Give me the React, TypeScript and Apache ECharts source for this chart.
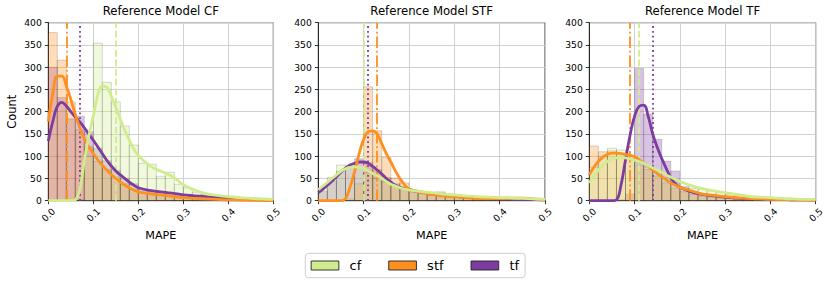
import React, { useEffect, useRef } from "react";
import * as echarts from "echarts";

// ---------- data ----------
const NAMES = ["cf", "stf", "tf"];
const COLORS: Record<string, string> = { cf: "#d0ec8c", stf: "#ff8f1e", tf: "#7d3ca0" };
const FILLS: Record<string, string> = {
  cf: "rgba(208,236,140,0.3)",
  stf: "rgba(255,143,30,0.3)",
  tf: "rgba(125,60,160,0.3)",
};
const TITLES = ["Reference Model CF", "Reference Model STF", "Reference Model TF"];
const X_TICKS = [0, 0.1, 0.2, 0.3, 0.4, 0.5];
const Y_TICKS = [0, 50, 100, 150, 200, 250, 300, 350, 400];

const BIN_EDGES = [0, 0.02, 0.04, 0.06, 0.08, 0.1, 0.12, 0.14, 0.16, 0.18, 0.2, 0.22, 0.24, 0.26, 0.28, 0.3, 0.32, 0.34, 0.36, 0.38, 0.4, 0.42, 0.44, 0.46, 0.48, 0.5];

// histogram counts per panel
const HIST_CF_CF = [0, 0, 0, 3, 100, 354, 266, 222, 168, 125, 84, 82, 55, 64, 37, 29, 19, 14, 10, 11, 5, 4, 3, 2, 2];
const HIST_CF_STF = [378, 316, 222, 159, 121, 88, 70, 55, 38, 25, 18, 16, 14, 11, 8, 6, 4, 3, 2, 2, 1, 1, 1, 0, 0];
const HIST_CF_TF = [300, 232, 184, 190, 155, 118, 90, 68, 50, 38, 25, 20, 19, 17, 12, 10, 8, 6, 5, 4, 3, 3, 2, 1, 1];

const HIST_STF_CF = [28, 52, 80, 76, 75, 62, 50, 42, 35, 27, 22, 18, 16, 20, 15, 12, 9, 7, 6, 5, 5, 4, 4, 3, 3];
const HIST_STF_STF = [0, 0, 0, 4, 38, 256, 157, 97, 51, 40, 20, 17, 12, 10, 8, 7, 5, 4, 4, 4, 5, 6, 4, 3, 2];
const HIST_STF_TF = [22, 44, 66, 78, 94, 86, 70, 52, 38, 26, 20, 16, 13, 18, 12, 10, 7, 6, 5, 4, 3, 3, 3, 2, 2];

const HIST_TF_CF = [75, 100, 118, 114, 99, 85, 76, 66, 52, 40, 32, 28, 25, 22, 18, 14, 12, 9, 7, 6, 5, 4, 3, 3, 2];
const HIST_TF_STF = [123, 110, 112, 105, 95, 80, 70, 55, 40, 28, 20, 14, 10, 8, 6, 5, 4, 3, 3, 2, 2, 1, 1, 1, 1];
const HIST_TF_TF = [0, 0, 0, 2, 15, 297, 195, 138, 89, 67, 30, 20, 15, 10, 8, 6, 5, 4, 3, 2, 2, 1, 1, 1, 1];

// KDE curves at these x positions
const KDE_X = [0, 0.01, 0.02, 0.03, 0.04, 0.05, 0.06, 0.07, 0.08, 0.09, 0.1, 0.11, 0.12, 0.13, 0.14, 0.15, 0.16, 0.17, 0.18, 0.19, 0.2, 0.225, 0.25, 0.275, 0.3, 0.325, 0.35, 0.375, 0.4, 0.425, 0.45, 0.475, 0.5];

const KDE_CF_CF = [0, 0, 0, 0, 0, 0, 2, 25, 90, 145, 190, 238, 258, 255, 235, 210, 183, 158, 136, 116, 102, 79, 66, 55, 36, 24, 16, 12, 9, 7, 5, 4, 3];
const KDE_CF_STF = [178, 240, 280, 280, 258, 228, 194, 164, 140, 121, 106, 92, 80, 69, 59, 50, 42, 35, 29, 24, 20, 16, 13, 10, 7, 5, 4, 3, 2, 1.5, 1, 1, 0.5];
const KDE_CF_TF = [134, 178, 212, 221, 213, 200, 188, 177, 164, 150, 136, 121, 106, 91, 78, 67, 58, 50, 42, 35, 29, 23, 20, 17, 13, 11, 9, 7, 5, 4, 3, 2, 1.5];

const KDE_STF_CF = [25, 33, 41, 50, 58, 66, 72, 75, 76, 75, 72, 67, 61, 56, 50, 43, 37, 33, 29, 26, 24, 21, 18, 15, 13, 11, 9, 8, 7, 6, 5, 4, 3];
const KDE_STF_STF = [0, 0, 0, 0, 0, 0, 5, 30, 65, 105, 138, 155, 157, 150, 128, 106, 87, 67, 50, 36, 27, 19, 14, 11, 9, 7, 5, 5, 5, 6, 6, 4, 2];
const KDE_STF_TF = [18, 26, 35, 44, 54, 64, 73, 80, 84, 87, 87, 84, 77, 69, 60, 50, 42, 35, 30, 27, 24, 20, 16, 13, 10, 8, 7, 6, 5, 4, 3, 2.5, 2];

const KDE_TF_CF = [40, 55, 69, 80, 88, 93, 96, 97, 96, 94, 91, 88, 84, 79, 74, 69, 64, 58, 53, 48, 43, 34, 27, 22, 18, 14, 10, 8, 7, 5, 4, 3, 3];
const KDE_TF_STF = [58, 75, 88, 98, 104, 107, 107, 106, 104, 102, 99, 92, 85, 78, 69, 61, 54, 47, 40, 35, 30, 22, 15, 12, 9, 7, 5, 4, 3, 2.5, 2, 1.5, 1.5];
const KDE_TF_TF = [0, 0, 0, 0, 0, 0, 2, 35, 92, 147, 190, 212, 215, 190, 150, 120, 95, 72, 52, 38, 30, 20, 14, 11, 8, 6, 5, 4, 3, 3, 2, 2, 1.5];

// vertical reference lines (cf, stf, tf) per panel
const VLINE_CF = [0.153, 0.045, 0.067];
const VLINE_STF = [0.105, 0.129, 0.1125];
const VLINE_TF = [0.108, 0.087, 0.135];

const HISTS = [
  [HIST_CF_CF, HIST_CF_STF, HIST_CF_TF],
  [HIST_STF_CF, HIST_STF_STF, HIST_STF_TF],
  [HIST_TF_CF, HIST_TF_STF, HIST_TF_TF],
];
const KDES = [
  [KDE_CF_CF, KDE_CF_STF, KDE_CF_TF],
  [KDE_STF_CF, KDE_STF_STF, KDE_STF_TF],
  [KDE_TF_CF, KDE_TF_STF, KDE_TF_TF],
];
const VLINES = [VLINE_CF, VLINE_STF, VLINE_TF];

// ---------- layout ----------
const GRID_LEFT = [48.3, 318.3, 589.3];
const GRID_WIDTH = [225, 226.7, 226.4];
const GRID_TOP = 22.7;
const GRID_HEIGHT = 178;
const FONT = "DejaVu Sans";
const DASH: Record<string, any> = {
  cf: [6.7, 2.9],
  stf: [11.5, 2.9, 1.8, 2.9],
  tf: [1.8, 3],
};

function buildOption() {
  const grid: any[] = [];
  const xAxis: any[] = [];
  const yAxis: any[] = [];
  const title: any[] = [];
  const series: any[] = [];

  for (let p = 0; p < 3; p++) {
    grid.push({
      left: GRID_LEFT[p],
      top: GRID_TOP,
      width: GRID_WIDTH[p],
      height: GRID_HEIGHT,
      show: true,
      borderColor: "#000",
      borderWidth: 0.8,
      backgroundColor: "transparent",
    });
    title.push({
      text: TITLES[p],
      left: GRID_LEFT[p] + GRID_WIDTH[p] / 2,
      top: 5,
      textAlign: "center",
      padding: 0,
      textStyle: { fontSize: 11.7, fontWeight: "normal", color: "#000", fontFamily: FONT },
    });
    xAxis.push({
      type: "value",
      gridIndex: p,
      min: X_TICKS[0],
      max: X_TICKS[X_TICKS.length - 1],
      interval: X_TICKS[1] - X_TICKS[0],
      name: "MAPE",
      nameLocation: "middle",
      nameGap: 25,
      nameTextStyle: { fontSize: 11.2, color: "#000", fontFamily: FONT },
      axisLine: { show: true, onZero: false, lineStyle: { color: "#000", width: 0.8 } },
      axisTick: { show: true, length: 3.5, lineStyle: { color: "#000", width: 0.8 } },
      axisLabel: {
        rotate: 45,
        fontSize: 9.2,
        color: "#000",
        fontFamily: FONT,
        margin: 14,
        align: "center",
        verticalAlign: "middle",
        formatter: (v: number) => v.toFixed(1),
        showMinLabel: true,
        showMaxLabel: true,
      },
      splitLine: { show: true, lineStyle: { color: "#cccccc", width: 0.9 } },
    });
    yAxis.push({
      type: "value",
      gridIndex: p,
      min: Y_TICKS[0],
      max: Y_TICKS[Y_TICKS.length - 1],
      interval: Y_TICKS[1] - Y_TICKS[0],
      name: p === 0 ? "Count" : "",
      nameLocation: "middle",
      nameGap: 30,
      nameTextStyle: { fontSize: 11.5, color: "#000", fontFamily: FONT },
      axisLine: { show: true, onZero: false, lineStyle: { color: "#000", width: 0.8 } },
      axisTick: { show: true, length: 3.5, lineStyle: { color: "#000", width: 0.8 } },
      axisLabel: { fontSize: 9.2, color: "#000", fontFamily: FONT, margin: 6.5 },
      splitLine: { show: true, lineStyle: { color: "#cccccc", width: 0.9 } },
    });

    // histograms: drawn in reverse hue order (cf on top)
    for (let k = 2; k >= 0; k--) {
      const name = NAMES[k];
      const fill = FILLS[name];
      const counts = HISTS[p][k];
      const data = counts.map((c, i) => [BIN_EDGES[i], BIN_EDGES[i + 1], c]);
      series.push({
        type: "custom",
        name,
        xAxisIndex: p,
        yAxisIndex: p,
        clip: true,
        silent: true,
        itemStyle: { color: COLORS[name] },
        encode: { x: [0, 1], y: 2 },
        data,
        z: 2,
        renderItem: (params: any, api: any) => {
          const h = api.value(2);
          if (!h) return null;
          const p0 = api.coord([api.value(0), h]);
          const p1 = api.coord([api.value(1), 0]);
          return {
            type: "rect",
            shape: { x: p0[0], y: p0[1], width: p1[0] - p0[0], height: p1[1] - p0[1] },
            style: { fill, stroke: "rgba(0,0,0,0.2)", lineWidth: 0.75 },
          };
        },
      });
    }
    // KDE lines + vertical reference lines
    for (let k = 2; k >= 0; k--) {
      const name = NAMES[k];
      const color = COLORS[name];
      const kde = KDES[p][k];
      series.push({
        type: "line",
        name,
        xAxisIndex: p,
        yAxisIndex: p,
        data: KDE_X.map((x, i) => [x, kde[i]]),
        smooth: 0.45,
        symbol: "none",
        silent: true,
        z: 5,
        lineStyle: { color, width: 2.8 },
        itemStyle: { color },
        markLine: {
          silent: true,
          symbol: ["none", "none"],
          label: { show: false },
          animation: false,
          lineStyle: { color, width: 1.8, type: DASH[name] },
          data: [{ xAxis: VLINES[p][k] }],
        },
      });
    }
  }

  return {
    animation: false,
    textStyle: { fontFamily: FONT },
    title,
    grid,
    xAxis,
    yAxis,
    legend: {
      left: 305.3,
      top: 253.3,
      orient: "horizontal",
      selectedMode: false,
      icon: "rect",
      itemWidth: 27.7,
      itemHeight: 9,
      itemGap: 27,
      padding: [5.7, 6, 5.7, 5.4],
      borderColor: "#cfcfcf",
      borderWidth: 1,
      borderRadius: 3,
      backgroundColor: "#fff",
      textStyle: { fontSize: 13, color: "#000", fontFamily: FONT, padding: [0, 0, 0, 5.7] },
      data: NAMES.map((n) => ({
        name: n,
        itemStyle: { color: COLORS[n], borderColor: "#222", borderWidth: 0.9, opacity: 1 },
      })),
    },
    series,
  };
}

export default function App() {
  const ref = useRef<HTMLDivElement>(null);
  useEffect(() => {
    if (!ref.current) return;
    const chart = echarts.init(ref.current, undefined, { renderer: "svg" });
    chart.setOption(buildOption() as any);
    return () => chart.dispose();
  }, []);
  return (
    <div
      ref={ref}
      style={{ position: "fixed", left: 0, top: 0, width: 831, height: 285, background: "#fff" }}
    />
  );
}
